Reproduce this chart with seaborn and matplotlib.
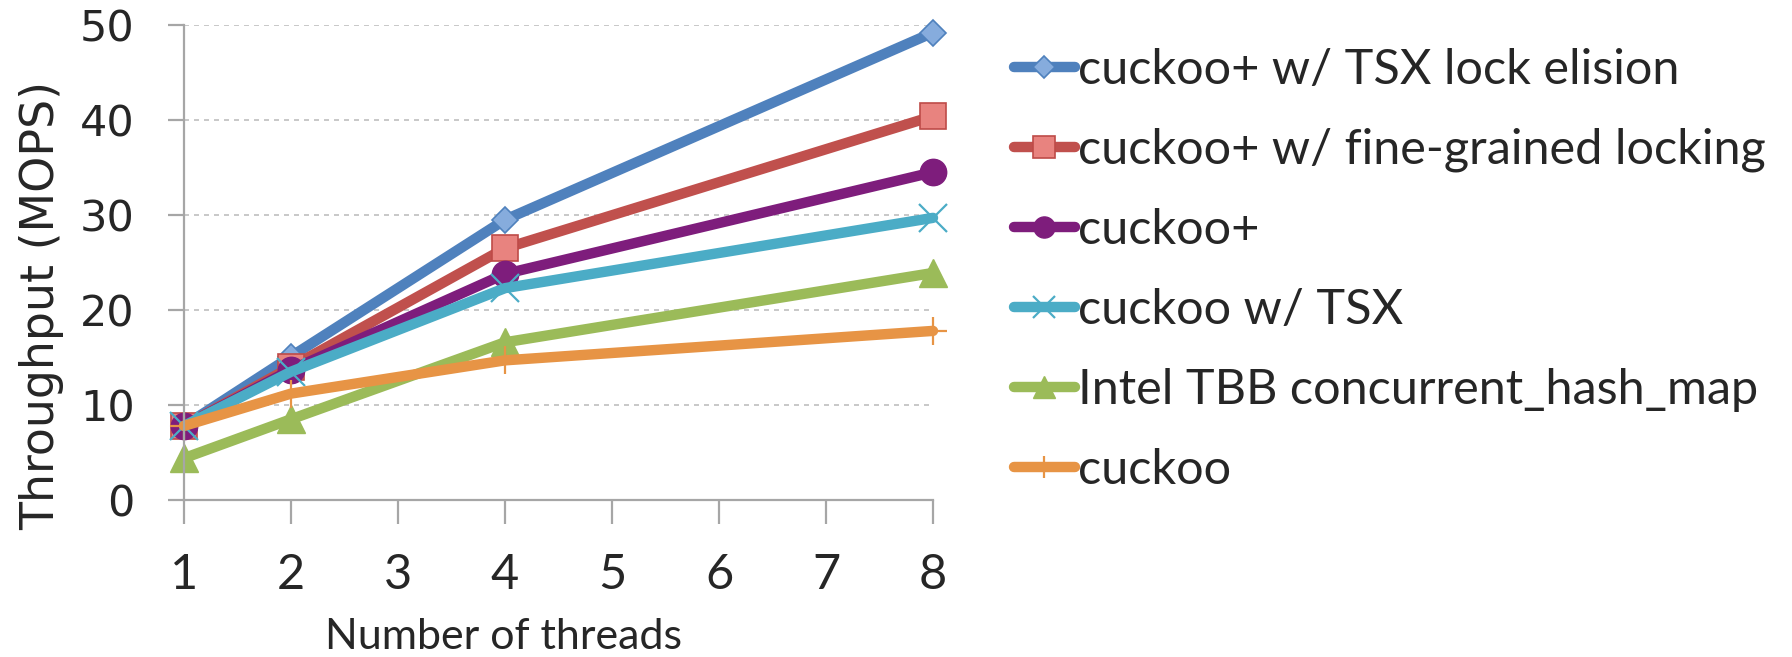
import matplotlib
matplotlib.use("Agg")
import matplotlib.pyplot as plt
import seaborn as sns
import pandas as pd

threads = [1, 2, 4, 8]
x_ticks = [1, 2, 3, 4, 5, 6, 7, 8]
y_ticks = [0, 10, 20, 30, 40, 50]

series_names = [
    "cuckoo+ w/ TSX lock elision",
    "cuckoo+ w/ fine-grained locking",
    "cuckoo+",
    "cuckoo w/ TSX",
    "Intel TBB concurrent_hash_map",
    "cuckoo",
]
tsx_elision = [7.8, 15.1, 29.5, 49.2]
fine_grained = [7.8, 14.0, 26.5, 40.4]
cuckoo_plus = [7.8, 13.7, 23.8, 34.5]
cuckoo_tsx = [7.8, 13.5, 22.3, 29.7]
tbb = [4.4, 8.5, 16.6, 23.9]
cuckoo = [7.8, 11.2, 14.7, 17.8]
series_values = [tsx_elision, fine_grained, cuckoo_plus, cuckoo_tsx, tbb, cuckoo]

sns.set_style("white")
plt.rcParams["font.family"] = ["Lato", "DejaVu Sans"]

styles = [
    dict(color="#4F81BD", marker="D", markersize=13.5, markerfacecolor="#86ACDD",
         markeredgecolor="#4F81BD", markeredgewidth=1.2),
    dict(color="#C0504D", marker="s", markersize=19, markerfacecolor="#E8837F",
         markeredgecolor="#BE4B48", markeredgewidth=1.2),
    dict(color="#7E1D7C", marker="o", markersize=19, markerfacecolor="#7E1D7C",
         markeredgecolor="#7E1D7C", markeredgewidth=1.0),
    dict(color="#4BACC6", marker="x", markersize=20, markerfacecolor="#4BACC6",
         markeredgecolor="#4BACC6", markeredgewidth=1.6),
    dict(color="#9BBB59", marker="^", markersize=20, markerfacecolor="#9BBB59",
         markeredgecolor="#9BBB59", markeredgewidth=1.0),
    dict(color="#E79445", marker="+", markersize=20, markerfacecolor="#E79445",
         markeredgecolor="#E79445", markeredgewidth=1.6),
]

fig = plt.figure(figsize=(17.92, 6.57), dpi=100)
ax = fig.add_axes([184 / 1792, 157 / 657, 749 / 1792, 475 / 657])

for name, vals, st in zip(series_names, series_values, styles):
    df = pd.DataFrame({"threads": threads, "mops": vals})
    sns.lineplot(data=df, x="threads", y="mops", ax=ax, label=name,
                 linewidth=7.5, clip_on=False, solid_capstyle="round",
                 solid_joinstyle="round", **st)

ax.set_xlim(1, 8)
ax.set_ylim(0, 50)
ax.set_xticks(x_ticks)
ax.set_yticks(y_ticks)
ax.set_xticklabels([str(v) for v in x_ticks])
ax.set_yticklabels([str(v) for v in y_ticks])

grid_col = "#A6A6A6"
for s in ["top", "right"]:
    ax.spines[s].set_visible(False)
for s in ["left", "bottom"]:
    ax.spines[s].set_color(grid_col)
    ax.spines[s].set_linewidth(1.6)
ax.set_axisbelow(True)
ax.yaxis.grid(True, color="#BFBFBF", linestyle=(0, (3, 3)), linewidth=1.2)
ax.xaxis.grid(False)

ax.tick_params(axis="y", direction="out", length=11.5, width=1.6, color=grid_col,
               labelsize=31, pad=24, left=True)
ax.tick_params(axis="x", direction="out", length=17, width=1.6, color=grid_col,
               labelsize=35, pad=21, bottom=True)
for lab in ax.get_yticklabels():
    lab.set_fontfamily("DejaVu Sans")

ax.set_xlabel("Number of threads", fontsize=31, labelpad=15, x=0.426)
ax.set_ylabel("Throughput (MOPS)", fontsize=33, fontfamily="DejaVu Sans")
ax.yaxis.set_label_coords(-0.160, 0.41)

handles, labels = ax.get_legend_handles_labels()
leg = ax.legend(handles, labels, loc="upper left",
                bbox_to_anchor=(1014 / 1792, (657 - 48) / 657),
                bbox_transform=fig.transFigure, frameon=False,
                fontsize=35, handlelength=1.25, handletextpad=0.06,
                labelspacing=0.74, borderpad=0, borderaxespad=0,
                markerscale=0.8)

fig.savefig("out.png", dpi=100)
